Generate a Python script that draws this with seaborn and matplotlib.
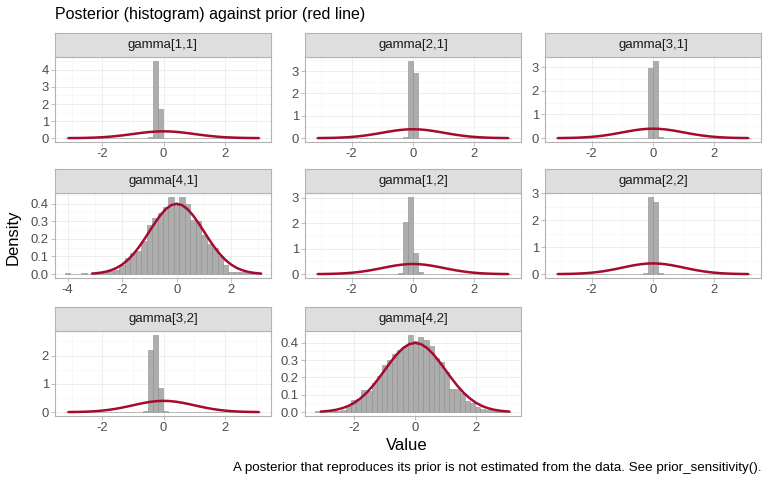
import numpy as np
import pandas as pd
import matplotlib
matplotlib.use("Agg")
import matplotlib.pyplot as plt
from matplotlib.ticker import MultipleLocator, FormatStrFormatter, AutoMinorLocator
import seaborn as sns

sns.set_theme(style="white")
plt.rcParams["font.family"] = ["Liberation Sans", "DejaVu Sans"]
plt.rcParams["axes.unicode_minus"] = False

panel_names = ["gamma[1,1]", "gamma[2,1]", "gamma[3,1]", "gamma[4,1]",
               "gamma[1,2]", "gamma[2,2]", "gamma[3,2]", "gamma[4,2]"]

# posterior histograms (density): left edge of first listed bar, bin width, bar heights
hist_first = [-0.50, -0.32, -0.32, -4.10, -0.48, -0.32, -0.66, -3.30]
hist_width = [0.16, 0.16, 0.16, 0.20, 0.16, 0.16, 0.16, 0.17]

g11 = [0.05, 4.53, 1.73]
g21 = [0.03, 3.46, 2.90, 0.01]
g31 = [0.01, 2.96, 3.26, 0.03]
g41 = [0.006, 0.002, 0.002, 0.006, 0.002, 0.004, 0.008, 0.012, 0.016, 0.025,
       0.050, 0.093, 0.118, 0.130, 0.190, 0.280, 0.320, 0.345, 0.378, 0.436,
       0.393, 0.438, 0.400, 0.306, 0.302, 0.220, 0.170, 0.150, 0.100, 0.054,
       0.012, 0.014, 0.010, 0.006, 0.004, 0.005]
g12 = [0.05, 2.04, 3.04, 0.84, 0.08]
g22 = [0.06, 2.87, 2.68, 0.06]
g32 = [0.03, 2.18, 2.73, 0.84, 0.05]
g42 = [0.006, 0.002, 0.003, 0.004, 0.008, 0.014, 0.035, 0.070, 0.075, 0.127,
       0.124, 0.170, 0.210, 0.270, 0.300, 0.335, 0.360, 0.380, 0.445, 0.410,
       0.435, 0.415, 0.380, 0.310, 0.290, 0.230, 0.133, 0.133, 0.108, 0.065,
       0.055, 0.030, 0.016, 0.012, 0.008, 0.006, 0.004, 0.003]
hist_heights = [g11, g21, g31, g41, g12, g22, g32, g42]

# prior density (red line)
prior_x = [-3.1, -3.0, -2.8, -2.6, -2.4, -2.2, -2.0, -1.8, -1.6, -1.4, -1.2, -1.0,
           -0.8, -0.6, -0.4, -0.2, 0.0, 0.2, 0.4, 0.6, 0.8, 1.0, 1.2, 1.4, 1.6,
           1.8, 2.0, 2.2, 2.4, 2.6, 2.8, 3.0, 3.1]
prior_y = [0.0033, 0.0044, 0.0079, 0.0136, 0.0224, 0.0355, 0.0540, 0.0790, 0.1109,
           0.1497, 0.1942, 0.2420, 0.2897, 0.3332, 0.3683, 0.3910, 0.3989, 0.3910,
           0.3683, 0.3332, 0.2897, 0.2420, 0.1942, 0.1497, 0.1109, 0.0790, 0.0540,
           0.0355, 0.0224, 0.0136, 0.0079, 0.0044, 0.0033]

y_steps = [1, 1, 1, 0.1, 1, 1, 1, 0.1]


def full_bins(first, w, heights, lo=-3.1, hi=3.1):
    # pad with empty bins so the histogram covers the prior range
    n_left = max(0, int(np.ceil((first - lo) / w - 1e-6)))
    end = first + len(heights) * w
    n_right = max(0, int(np.ceil((hi - end) / w - 1e-6)))
    vals = [0.0] * n_left + list(heights) + [0.0] * n_right
    start = first - n_left * w
    edges = start + w * np.arange(len(vals) + 1)
    return edges, np.array(vals)


W, H = 770, 484
fig = plt.figure(figsize=(W / 100, H / 100), dpi=100)

col_left = [55, 305, 545]
strip_top = [33, 169, 307]
panel_w, strip_h, panel_h = 216, 24, 85

grey_border = "#B3B3B3"
for i, name in enumerate(panel_names):
    r, c = divmod(i, 3)
    left = col_left[c]
    top = strip_top[r] + strip_h
    ax = fig.add_axes([left / W, 1 - (top + panel_h) / H, panel_w / W, panel_h / H])
    sax = fig.add_axes([left / W, 1 - top / H, panel_w / W, strip_h / H])

    edges, vals = full_bins(hist_first[i], hist_width[i], hist_heights[i])
    hist_df = pd.DataFrame({"value": (edges[:-1] + edges[1:]) / 2, "density": vals})
    sns.histplot(data=hist_df, x="value", weights="density", bins=list(edges),
                 stat="count", ax=ax, color="#ADADAD", edgecolor="#8C8C8C",
                 linewidth=0.4, alpha=1)
    sns.lineplot(x=prior_x, y=prior_y, ax=ax, color="#A50B2E", linewidth=1.8)

    ax.use_sticky_edges = False
    ax.margins(x=0.05, y=0.05)
    ax.autoscale_view()

    ax.xaxis.set_major_locator(MultipleLocator(2))
    ax.xaxis.set_minor_locator(AutoMinorLocator(2))
    ax.yaxis.set_major_locator(MultipleLocator(y_steps[i]))
    ax.yaxis.set_minor_locator(AutoMinorLocator(2))
    ax.yaxis.set_major_formatter(FormatStrFormatter("%.1f" if y_steps[i] < 1 else "%d"))
    ax.grid(True, which="major", color="#EBEBEB", linewidth=0.6)
    ax.grid(True, which="minor", color="#F4F4F4", linewidth=0.4)
    ax.set_axisbelow(True)
    ax.set_xlabel("")
    ax.set_ylabel("")
    ax.tick_params(which="major", length=2.6, width=0.6, color=grey_border, pad=1.8,
                   labelsize=9.4, labelcolor="#4D4D4D", bottom=True, left=True)
    ax.tick_params(which="minor", length=0)
    for sp in ax.spines.values():
        sp.set_color(grey_border)
        sp.set_linewidth(0.8)

    sax.set_facecolor("#DEDEDE")
    sax.set_xticks([])
    sax.set_yticks([])
    for sp in sax.spines.values():
        sp.set_color(grey_border)
        sp.set_linewidth(0.8)
    sax.text(0.5, 0.5, name, ha="center", va="center", fontsize=9.5,
             color="#1A1A1A", transform=sax.transAxes)

fig.text(55 / W, 1 - 15 / H, "Posterior (histogram) against prior (red line)",
         ha="left", va="center", fontsize=11.5, color="#000000")
fig.text(13 / W, 1 - 237 / H, "Density", rotation=90, ha="center", va="center",
         fontsize=12, color="#000000")
fig.text(407 / W, 1 - 446 / H, "Value", ha="center", va="center",
         fontsize=12, color="#000000")
fig.text(762 / W, 1 - 468 / H,
         "A posterior that reproduces its prior is not estimated from the data. See prior_sensitivity().",
         ha="right", va="center", fontsize=9.6, color="#000000")

fig.savefig("out.png", dpi=100)
